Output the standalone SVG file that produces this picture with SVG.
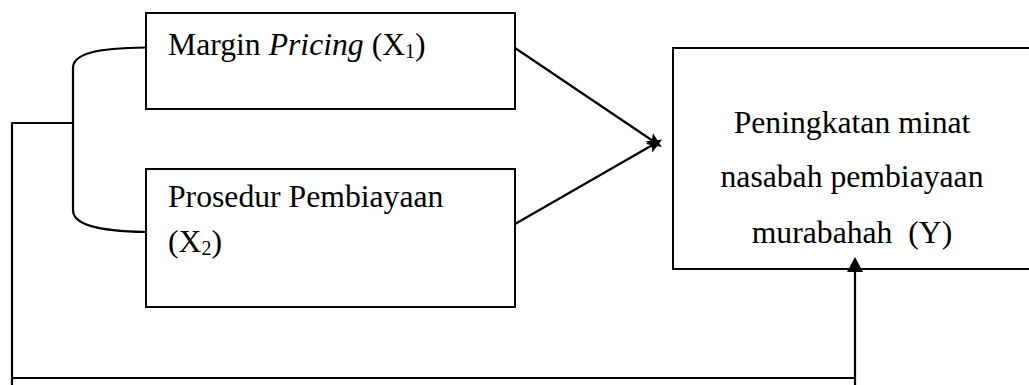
<svg xmlns="http://www.w3.org/2000/svg" width="1029" height="385" viewBox="0 0 1029 385">
<style>
.box{fill:#fff;stroke:#000;stroke-width:2}
.ln{fill:none;stroke:#000;stroke-width:2.2}
text{font-family:"Liberation Serif","Times New Roman",serif;font-size:31.7px;fill:#000}
.sub{font-size:20px}
</style>
<defs>
<marker id="ah" viewBox="0 0 15 13" refX="8" refY="6.5" markerWidth="15" markerHeight="13" orient="auto" markerUnits="userSpaceOnUse">
<path d="M0,0 L15,6.5 L0,13 L3,6.5 z" fill="#000"/>
</marker>
<marker id="ahup" viewBox="0 0 15 16" refX="13" refY="8" markerWidth="15" markerHeight="16" orient="auto" markerUnits="userSpaceOnUse">
<path d="M0,0 L15,8 L0,16 z" fill="#000"/>
</marker>
</defs>
<rect width="1029" height="385" fill="#fff"/>
<g id="node-x1">
<rect class="box" x="146" y="13" width="369" height="96"/>
<text x="168" y="55">Margin <tspan font-style="italic">Pricing</tspan> (X<tspan class="sub" dy="3">1</tspan><tspan dy="-3">)</tspan></text>
</g>
<g id="node-x2">
<rect class="box" x="146" y="169" width="369" height="138"/>
<text x="168" y="207">Prosedur Pembiayaan</text>
<text x="168" y="252">(X<tspan class="sub" dy="3">2</tspan><tspan dy="-3">)</tspan></text>
</g>
<g id="node-y">
<rect class="box" x="673" y="48" width="360" height="221"/>
<text x="852" y="133" text-anchor="middle">Peningkatan minat</text>
<text x="852" y="187" text-anchor="middle">nasabah pembiayaan</text>
<text x="852" y="243" text-anchor="middle" xml:space="preserve">murabahah  (Y)</text>
</g>
<g id="node-bottom">
<rect class="box" x="12" y="378" width="843" height="20"/>
</g>
<g id="connectors">
<path class="ln" d="M146,47.5 C95,48 73,54 73,68 L73,210 C73,224 95,231 146,232"/>
<path class="ln" d="M73,123 L12,123 L12,386"/>
<path class="ln" d="M515,48 L656,143" marker-end="url(#ah)"/>
<path class="ln" d="M515,224 L656,143" marker-end="url(#ah)"/>
<path class="ln" d="M855,386 L855,259" marker-end="url(#ahup)"/>
</g>
</svg>
